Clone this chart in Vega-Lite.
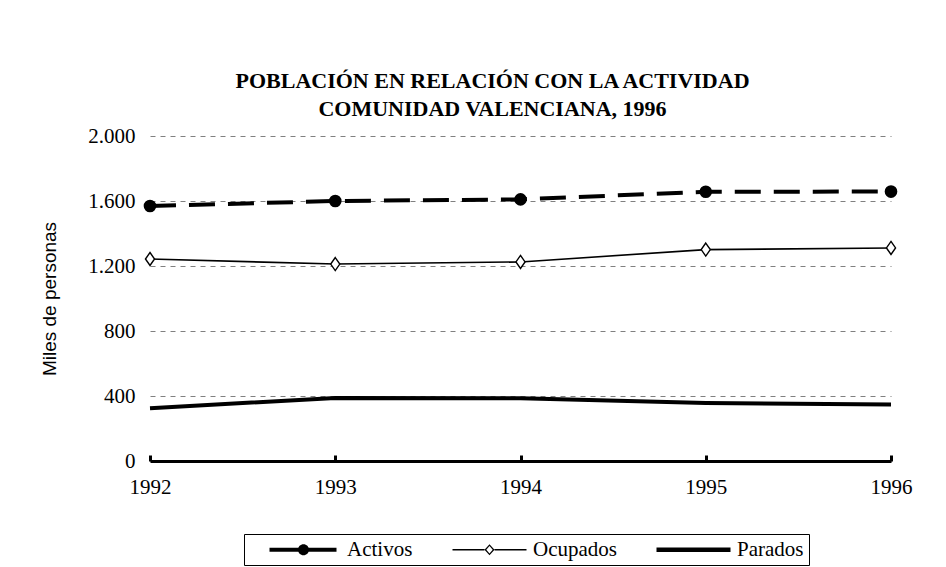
{
  "$schema": "https://vega.github.io/schema/vega-lite/v6.json",
  "width": 741,
  "height": 325,
  "autosize": "none",
  "padding": {"left": 150, "top": 136, "right": 55, "bottom": 106},
  "background": "white",
  "title": {
    "text": ["POBLACIÓN EN RELACIÓN CON LA ACTIVIDAD", "COMUNIDAD VALENCIANA, 1996"],
    "font": "Liberation Serif",
    "fontSize": 22,
    "fontWeight": "bold",
    "color": "black",
    "lineHeight": 28,
    "anchor": "middle",
    "dx": -28,
    "offset": 4
  },
  "config": {
    "view": {"stroke": null},
    "axis": {"labelColor": "black", "titleColor": "black", "labelFont": "Liberation Serif", "labelFontSize": 21},
    "legend": {"labelFont": "Liberation Serif", "labelFontSize": 21, "labelColor": "black"}
  },
  "data": {
    "values": [
      {"anio": "1992", "serie": "Activos", "valor": 1569},
      {"anio": "1993", "serie": "Activos", "valor": 1600},
      {"anio": "1994", "serie": "Activos", "valor": 1610},
      {"anio": "1995", "serie": "Activos", "valor": 1657},
      {"anio": "1996", "serie": "Activos", "valor": 1658},
      {"anio": "1992", "serie": "Ocupados", "valor": 1243},
      {"anio": "1993", "serie": "Ocupados", "valor": 1212},
      {"anio": "1994", "serie": "Ocupados", "valor": 1225},
      {"anio": "1995", "serie": "Ocupados", "valor": 1301},
      {"anio": "1996", "serie": "Ocupados", "valor": 1311},
      {"anio": "1992", "serie": "Parados", "valor": 325},
      {"anio": "1993", "serie": "Parados", "valor": 388},
      {"anio": "1994", "serie": "Parados", "valor": 386},
      {"anio": "1995", "serie": "Parados", "valor": 357},
      {"anio": "1996", "serie": "Parados", "valor": 347}
    ]
  },
  "encoding": {
    "x": {
      "field": "anio",
      "type": "ordinal",
      "scale": {"type": "point", "padding": 0},
      "axis": {
        "title": null,
        "labelAngle": 0,
        "labelPadding": 21,
        "domainColor": "black",
        "domainWidth": 3,
        "tickColor": "black",
        "tickWidth": 3,
        "tickSize": -6,
        "grid": false
      }
    },
    "y": {
      "field": "valor",
      "type": "quantitative",
      "scale": {"domain": [0, 2000]},
      "axis": {
        "title": "Miles de personas",
        "titleFont": "Liberation Sans",
        "titleFontSize": 19,
        "titleFontWeight": "normal",
        "titlePadding": 28,
        "labelPadding": 15,
        "labelExpr": "replace(format(datum.value, ','), ',', '.')",
        "values": [0, 400, 800, 1200, 1600, 2000],
        "domain": false,
        "ticks": false,
        "grid": true,
        "gridColor": "#808080",
        "gridDash": [5, 5],
        "gridWidth": 1
      }
    }
  },
  "layer": [
    {
      "transform": [{"filter": "datum.serie === 'Parados'"}],
      "mark": {"type": "line", "strokeCap": "butt", "color": "black", "strokeWidth": 4}
    },
    {
      "transform": [{"filter": "datum.serie === 'Ocupados'"}],
      "mark": {"type": "line", "strokeCap": "butt", "color": "black", "strokeWidth": 1.6}
    },
    {
      "transform": [{"filter": "datum.serie === 'Activos'"}],
      "mark": {"type": "line", "strokeCap": "butt", "color": "black", "strokeWidth": 4, "strokeDash": [26, 13]}
    },
    {
      "transform": [{"filter": "datum.serie === 'Activos'"}],
      "mark": {"type": "point", "shape": "circle", "filled": true, "color": "black", "opacity": 1, "size": 160}
    },
    {
      "transform": [{"filter": "datum.serie === 'Ocupados'"}],
      "mark": {"type": "point", "shape": "M0,-1L0.7,0L0,1L-0.7,0Z", "fill": "white", "stroke": "black", "strokeWidth": 1.4, "opacity": 1, "fillOpacity": 1, "size": 169}
    },
    {
      "mark": {"type": "point", "filled": true, "color": "black", "size": 0},
      "encoding": {
        "shape": {
          "field": "serie",
          "type": "nominal",
          "scale": {
            "domain": ["Activos", "Ocupados", "Parados"],
            "range": [
              "M-3.4,-0.2H-0.4V0.2H-3.4ZM0.4,-0.2H3.3V0.2H0.4ZM0,-0.55A0.55,0.55,0,1,1,0,0.55A0.55,0.55,0,1,1,0,-0.55Z",
              "M-3.7,-0.075H-0.5V0.075H-3.7ZM0.5,-0.075H3.7V0.075H0.5ZM0,-0.56L0.5,0L0,0.56L-0.5,0ZM0,-0.38L-0.32,0L0,0.38L0.32,0Z",
              "M-3.7,-0.23H3.7V0.23H-3.7Z"
            ]
          },
          "legend": {
            "title": null,
            "orient": "none",
            "direction": "horizontal",
            "legendX": 94,
            "legendY": 398,
            "padding": 5,
            "strokeColor": "black",
            "fillColor": "white",
            "symbolSize": 400,
            "symbolOffset": 44,
            "labelOffset": 33,
            "columnPadding": 22,
            "symbolFillColor": "black",
            "symbolStrokeWidth": 0,
            "symbolOpacity": 1,
            "labelExpr": "datum.label === 'Parados' ? 'Parados\u00a0\u00a0\u00a0\u00a0\u00a0' : datum.label"
          }
        }
      }
    }
  ]
}
